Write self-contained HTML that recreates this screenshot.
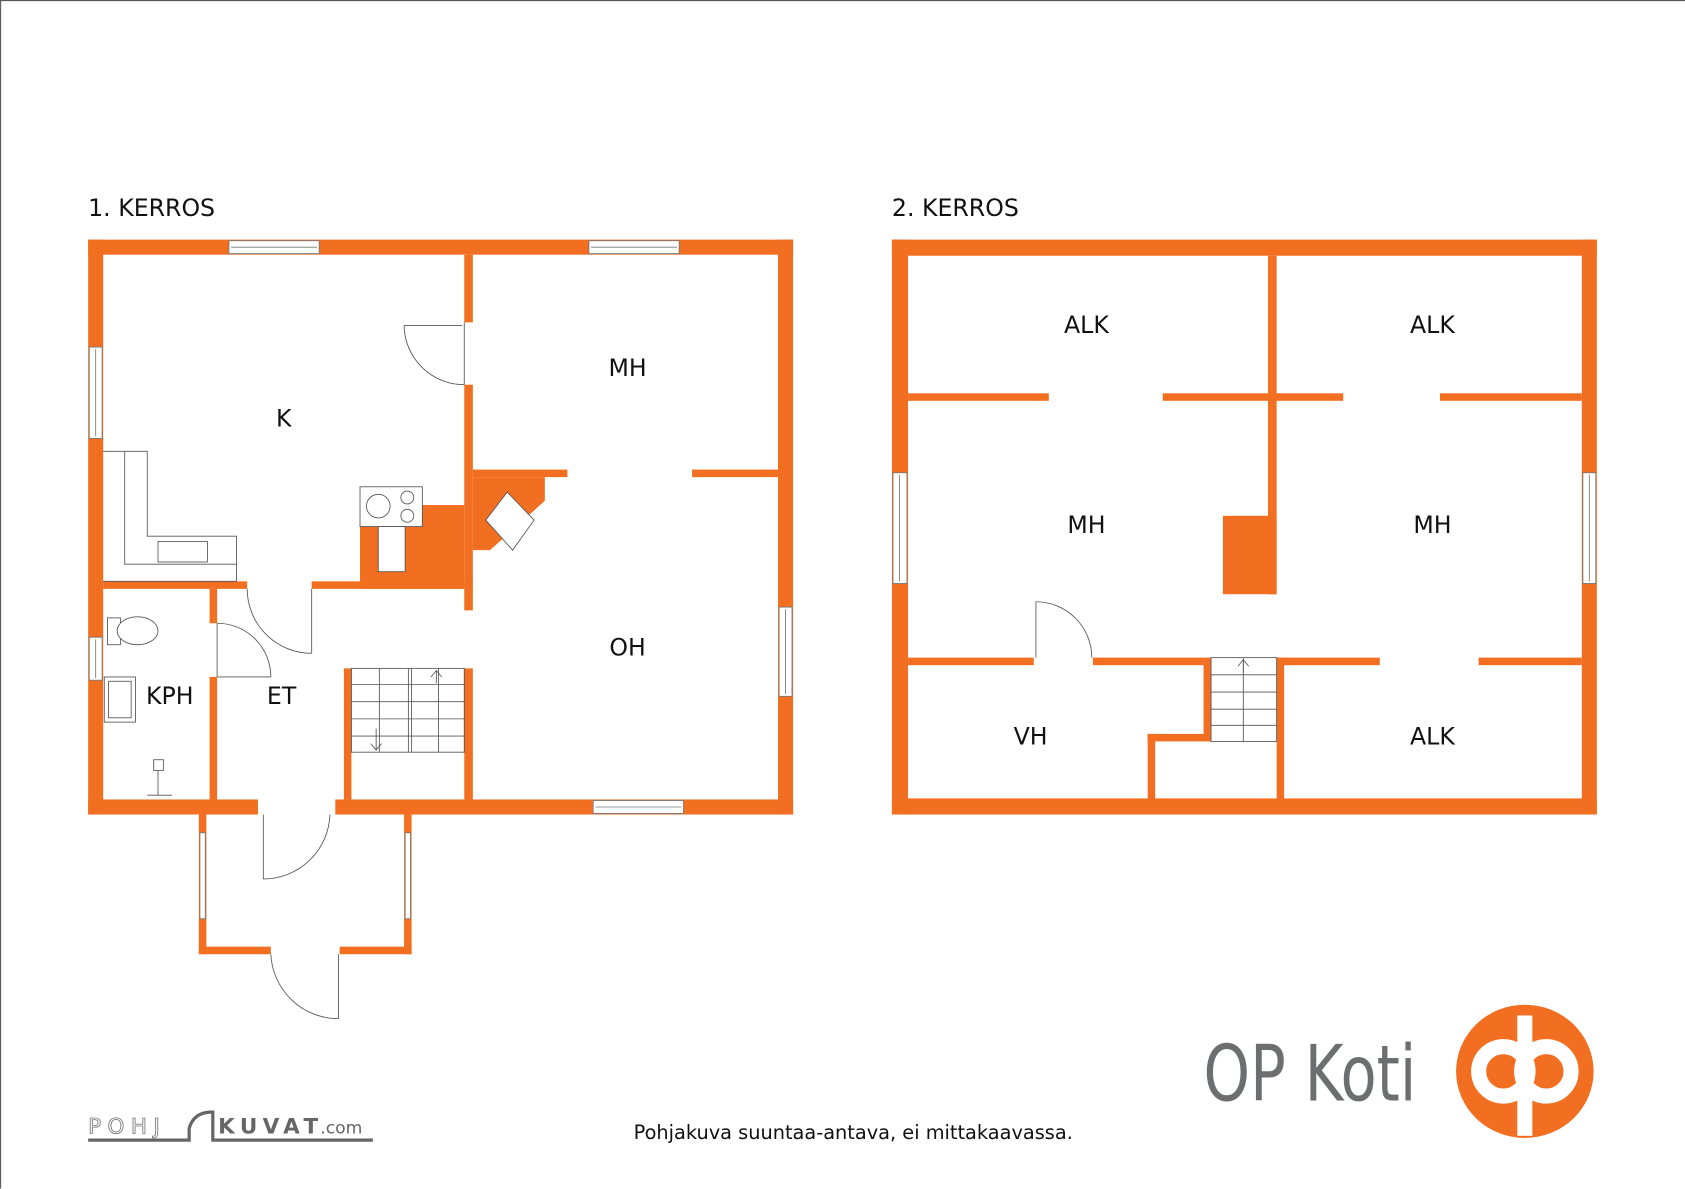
<!DOCTYPE html>
<html><head><meta charset="utf-8"><style>
html,body{margin:0;padding:0;background:#fff;}
svg{display:block;}
text{font-family:"DejaVu Sans","Liberation Sans",sans-serif;}
</style></head><body>
<svg width="1685" height="1189" viewBox="0 0 1568 1106.5" xmlns="http://www.w3.org/2000/svg">
<rect x="0" y="0" width="1568" height="1106.5" fill="#fff"/>
<line x1="0.5" y1="0" x2="0.5" y2="1106" stroke="#555" stroke-width="1"/>
<line x1="0" y1="0.5" x2="1568" y2="0.5" stroke="#555" stroke-width="1"/>
<g fill="#f26f21">
<rect x="82" y="223" width="656" height="14"/>
<rect x="82" y="223" width="14" height="535"/>
<rect x="724" y="223" width="14" height="535"/>
<rect x="82" y="744" width="158" height="14"/>
<rect x="312" y="744" width="426" height="14"/>
<rect x="432" y="237" width="8" height="63"/>
<rect x="432" y="358" width="8" height="210"/>
<rect x="440" y="437" width="88" height="7"/>
<rect x="644" y="437" width="80" height="7"/>
<polygon points="440,444 507,444 507,466 456,512 440,512"/>
<rect x="335" y="470" width="97" height="78"/>
<rect x="96" y="541" width="134" height="7"/>
<rect x="290" y="541" width="142" height="7"/>
<rect x="195" y="548" width="7" height="32"/>
<rect x="195" y="630" width="7" height="114"/>
<rect x="320" y="622" width="7" height="122"/>
<rect x="432" y="622" width="8" height="122"/>
<rect x="185" y="758" width="7" height="130"/>
<rect x="376" y="758" width="7" height="130"/>
<rect x="185" y="881" width="67" height="7"/>
<rect x="316" y="881" width="67" height="7"/>
<rect x="830" y="223" width="656" height="15"/>
<rect x="830" y="743" width="656" height="15"/>
<rect x="830" y="223" width="15" height="535"/>
<rect x="1472" y="223" width="14" height="535"/>
<rect x="1180" y="238" width="8" height="315"/>
<rect x="1138" y="480" width="50" height="73"/>
<rect x="845" y="366" width="131" height="7"/>
<rect x="1082" y="366" width="168" height="7"/>
<rect x="1340" y="366" width="132" height="7"/>
<rect x="845" y="612" width="117" height="7"/>
<rect x="1017" y="612" width="103" height="7"/>
<rect x="1188" y="612" width="96" height="7"/>
<rect x="1376" y="612" width="96" height="7"/>
<rect x="1120" y="612" width="7" height="78"/>
<rect x="1068" y="683" width="59" height="7"/>
<rect x="1068" y="683" width="7" height="61"/>
<rect x="1188" y="612" width="7" height="132"/>
</g>
<g fill="#fff" stroke="#777" stroke-width="0.8">
<rect x="213" y="224" width="84" height="12"/><line x1="215" y1="230" x2="295" y2="230"/>
<rect x="548" y="224" width="84" height="12"/><line x1="550" y1="230" x2="630" y2="230"/>
<rect x="83" y="323" width="12" height="85"/><line x1="89" y1="325" x2="89" y2="406"/>
<rect x="83" y="593" width="12" height="40"/><line x1="89" y1="595" x2="89" y2="631"/>
<rect x="725" y="565" width="12" height="83"/><line x1="731" y1="567" x2="731" y2="646"/>
<rect x="552" y="745" width="84" height="12"/><line x1="554" y1="751" x2="634" y2="751"/>
<rect x="186" y="775" width="5" height="80"/>
<rect x="377" y="775" width="5" height="80"/>
<rect x="831" y="440" width="13" height="103"/><line x1="837" y1="442" x2="837" y2="541"/>
<rect x="1473" y="440" width="12" height="103"/><line x1="1479" y1="442" x2="1479" y2="541"/>
</g>
<g fill="#fff" stroke="#555" stroke-width="0.8">
<rect x="335" y="453" width="58" height="37"/>
<circle cx="352" cy="471" r="11"/><circle cx="379" cy="463" r="6"/><circle cx="379" cy="480" r="6"/>
<rect x="352" y="490" width="25" height="42"/>
<polygon points="452,484 472,458 497,484 477,512" />
<polyline points="96,420 137,420 137,499 220,499 220,541 96,541" fill="none"/>
<polyline points="116,420 116,525 220,525" fill="none"/>
<rect x="147" y="504" width="46" height="19"/>
<rect x="100" y="575" width="12" height="25"/><ellipse cx="128" cy="587" rx="19" ry="13"/>
<rect x="97" y="630" width="29" height="42"/><rect x="101" y="634" width="21" height="34"/>
<rect x="143" y="707" width="9" height="10"/><line x1="147" y1="717" x2="147" y2="740"/><line x1="137" y1="740" x2="160" y2="740"/>
<rect x="327" y="622" width="105" height="78" fill="none"/>
<line x1="380" y1="622" x2="380" y2="700"/><line x1="383" y1="622" x2="383" y2="700"/>
<line x1="327" y1="637" x2="432" y2="637"/><line x1="327" y1="653" x2="432" y2="653"/><line x1="327" y1="669" x2="432" y2="669"/><line x1="327" y1="685" x2="432" y2="685"/>
<line x1="353" y1="622" x2="353" y2="700"/><line x1="408" y1="622" x2="408" y2="700"/>
<rect x="1127" y="612" width="61" height="78" fill="none"/>
<line x1="1157" y1="612" x2="1157" y2="690"/>
<line x1="1127" y1="628" x2="1188" y2="628"/><line x1="1127" y1="644" x2="1188" y2="644"/><line x1="1127" y1="660" x2="1188" y2="660"/><line x1="1127" y1="675" x2="1188" y2="675"/>
</g>
<g fill="none" stroke="#555" stroke-width="0.8">
<line x1="432" y1="300" x2="432" y2="358"/><path d="M376,303 A56,56 0 0 0 432,358"/><line x1="376" y1="303" x2="430" y2="303"/>
<line x1="290" y1="548" x2="290" y2="608"/><path d="M230,548 A60,60 0 0 0 290,608"/>
<line x1="202" y1="580" x2="202" y2="630"/><line x1="202" y1="630" x2="252" y2="630"/><path d="M202,580 A50,50 0 0 1 252,630"/>
<line x1="245" y1="758" x2="245" y2="818"/><path d="M245,818 A62,62 0 0 0 307,758"/>
<line x1="315" y1="888" x2="315" y2="948"/><path d="M252,888 A63,63 0 0 0 315,948"/>
<line x1="964" y1="560" x2="964" y2="612"/><path d="M964,560 A52,52 0 0 1 1016,612"/>
<line x1="350" y1="678" x2="350" y2="698"/><path d="M345,692 L350,698 L355,692"/>
<line x1="406" y1="624" x2="406" y2="636"/><path d="M401,630 L406,624 L411,630"/>
<line x1="1157" y1="614" x2="1157" y2="626"/><path d="M1152,620 L1157,614 L1162,620"/>
</g>
<g fill="#111" font-size="22">
<text x="82" y="201">1. KERROS</text>
<text x="830" y="201">2. KERROS</text>
<g text-anchor="middle">
<text x="264" y="397">K</text>
<text x="584" y="350">MH</text>
<text x="584" y="610">OH</text>
<text x="158" y="655">KPH</text>
<text x="262" y="655">ET</text>
<text x="1011" y="310">ALK</text>
<text x="1333" y="310">ALK</text>
<text x="1011" y="496">MH</text>
<text x="1333" y="496">MH</text>
<text x="959" y="693">VH</text>
<text x="1333" y="693">ALK</text>
</g>
</g>
<text x="794" y="1060" font-size="18" text-anchor="middle" fill="#111">Pohjakuva suuntaa-antava, ei mittakaavassa.</text>
<text x="1120" y="1024" font-size="72" fill="#6d6e70" font-family="Liberation Sans, sans-serif" textLength="198" lengthAdjust="spacingAndGlyphs">OP Koti</text>
<ellipse cx="1419" cy="997" rx="64" ry="62" fill="#f26f21"/>
<circle cx="1399" cy="997" r="23" fill="none" stroke="#fff" stroke-width="14"/>
<circle cx="1439" cy="997" r="23" fill="none" stroke="#fff" stroke-width="14"/>
<rect x="1412" y="945" width="14" height="112" fill="#fff"/>
<text x="82" y="1055" font-size="20" fill="#fff" stroke="#777" stroke-width="0.8" letter-spacing="6">POHJ</text>
<path d="M82,1061 L176,1061 L176,1050 Q180,1036 195,1035 L198,1035 L198,1061 L347,1061" fill="none" stroke="#666" stroke-width="3"/>
<text x="203" y="1055" font-size="20" font-weight="bold" fill="#666" letter-spacing="5">KUVAT</text>
<text x="298" y="1055" font-size="16" fill="#666">.com</text>
</svg>
</body></html>
